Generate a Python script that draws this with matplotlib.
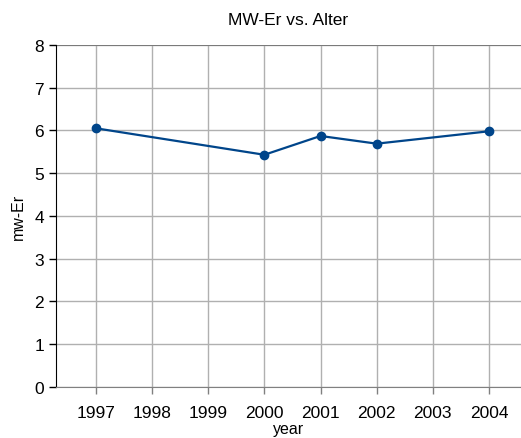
import matplotlib
matplotlib.use("Agg")
import matplotlib.pyplot as plt

years = [1997, 2000, 2001, 2002, 2004]
mw_er = [6.05, 5.43, 5.87, 5.69, 5.98]
year_ticks = [1997, 1998, 1999, 2000, 2001, 2002, 2003, 2004]
y_ticks = [0, 1, 2, 3, 4, 5, 6, 7, 8]

plt.rcParams['font.family'] = ['Liberation Sans', 'DejaVu Sans']

fig = plt.figure(figsize=(5.21, 4.39), dpi=100)
ax = fig.add_axes([56 / 521, 51.3 / 439, 1 - 56 / 521, (387.7 - 46) / 439])

ax.plot(years, mw_er, color="#00458a", linewidth=1.6, marker="o", markersize=6, zorder=3)

ax.set_xlim(1996.29, 2004.57)
ax.set_ylim(0, 8)
ax.set_xticks(year_ticks)
ax.set_yticks(y_ticks)
ax.grid(True, color="#b0b0b0", linewidth=1.0)
ax.set_axisbelow(True)

for s in ["top", "right"]:
    ax.spines[s].set_visible(False)
ax.spines["left"].set_color("black")
ax.spines["bottom"].set_color("#808080")
ax.axhline(8, color="#707070", linewidth=1.2, zorder=2)

ax.tick_params(axis="both", labelsize=12.5, length=5, width=1, colors="#808080", labelcolor="black")
ax.tick_params(axis="y", colors="black", labelcolor="black")
ax.tick_params(axis="x", pad=8)

ax.set_title("MW-Er vs. Alter", fontsize=12.5, pad=15)
ax.set_xlabel("year", fontsize=11.5, labelpad=1)
ax.set_ylabel("mw-Er", fontsize=11.5, labelpad=6)

fig.savefig("out.png", dpi=100)
